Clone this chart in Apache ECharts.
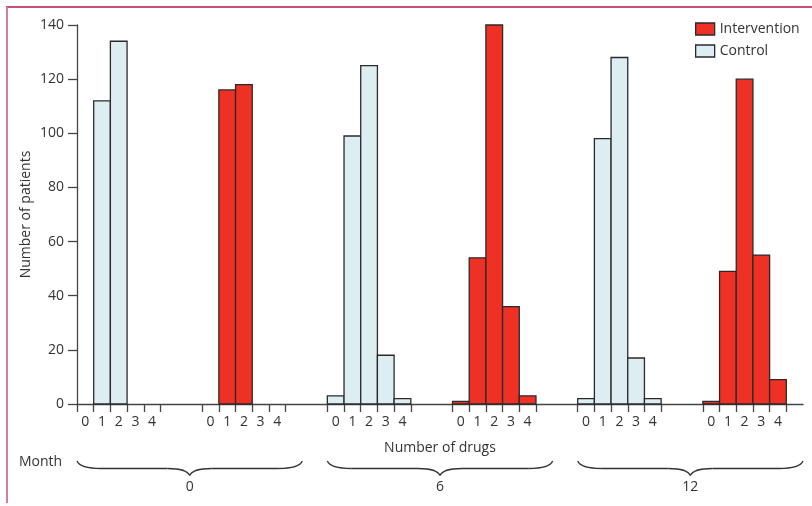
<!DOCTYPE html>
<html>
<head>
<meta charset="utf-8">
<script src="https://cdn.jsdelivr.net/npm/echarts@6/dist/echarts.min.js"></script>
<style>
html,body{margin:0;padding:0;background:#fff;}
#chart{width:812px;height:506px;}
</style>
</head>
<body>
<div id="chart"></div>
<script>
// ---- data ----
const months = ['0', '6', '12'];
const drugCounts = ['0', '1', '2', '3', '4'];
const controlValues = [
  [0, 112, 134, 0, 0],
  [3, 99, 125, 18, 2],
  [2, 98, 128, 17, 2]
];
const interventionValues = [
  [0, 116, 118, 0, 0],
  [1, 54, 140, 36, 3],
  [1, 49, 120, 55, 9]
];
const yTicks = [0, 20, 40, 60, 80, 100, 120, 140];

// ---- layout in axis units (one unit = one bar) ----
const MONTH_SPAN = 15;
const ARM_OFFSET = 7.5;
const X_MAX = 43.5;
const BRACE_SPAN = 13.5;

function buildData(values, arm) {
  const out = [];
  values.forEach((row, m) => {
    row.forEach((v, k) => {
      out.push([m * MONTH_SPAN + arm * ARM_OFFSET + k, v, k]);
    });
  });
  return out;
}
const tickVals = [], labelVals = [];
months.forEach((_, m) => {
  [0, 1].forEach(a => {
    const o = m * MONTH_SPAN + a * ARM_OFFSET;
    for (let i = 0; i <= drugCounts.length; i++) tickVals.push(o + i);
    for (let i = 0; i < drugCounts.length; i++) labelVals.push(o + i + 0.5);
  });
});

function renderBar(params, api) {
  const x = api.value(0), v = api.value(1);
  if (!v) return null;
  const p0 = api.coord([x, v]);
  const p1 = api.coord([x + 1, 0]);
  return {
    type: 'rect',
    shape: { x: p0[0], y: p0[1], width: p1[0] - p0[0], height: p1[1] - p0[1] },
    style: api.style()
  };
}

const FONT = '"Open Sans"';
const TXT = '#333';
const chart = echarts.init(document.getElementById('chart'), null, { renderer: 'canvas' });
const option = {
  animation: false,
  backgroundColor: '#fff',
  textStyle: { fontFamily: FONT },
  grid: { left: 77, right: 9, top: 25, bottom: 102 },
  legend: {
    orient: 'vertical',
    left: 695,
    top: 22,
    itemWidth: 19,
    itemHeight: 12,
    itemGap: 8,
    icon: 'rect',
    padding: 0,
    textStyle: { fontFamily: FONT, fontSize: 14, color: TXT },
    data: [
      { name: 'Intervention', itemStyle: { color: '#ee3124', borderColor: '#2a2a2a', borderWidth: 1.3 } },
      { name: 'Control', itemStyle: { color: '#ddeef3', borderColor: '#2a2a2a', borderWidth: 1.3 } }
    ]
  },
  xAxis: {
    type: 'value',
    min: 0,
    max: X_MAX,
    name: 'Number of drugs',
    nameLocation: 'middle',
    nameGap: 37,
    nameMoveOverlap: false,
    nameTextStyle: { fontFamily: FONT, fontSize: 14, color: TXT },
    splitLine: { show: false },
    axisLine: { show: true, lineStyle: { color: '#444', width: 1.3 } },
    axisTick: { show: true, customValues: tickVals, length: 8, lineStyle: { color: '#444', width: 1.3 } },
    axisLabel: {
      customValues: labelVals,
      fontFamily: FONT, fontSize: 14, color: TXT, margin: 11,
      formatter: v => drugCounts[Math.round((v % ARM_OFFSET) - 0.5)]
    }
  },
  yAxis: {
    type: 'value',
    min: 0,
    max: 140,
    interval: 20,
    name: 'Number of patients',
    nameLocation: 'middle',
    nameGap: 44,
    nameMoveOverlap: false,
    nameTextStyle: { fontFamily: FONT, fontSize: 14, color: TXT },
    splitLine: { show: false },
    axisLine: { show: true, lineStyle: { color: '#444', width: 1.3 } },
    axisTick: { show: true, length: 9, lineStyle: { color: '#444', width: 1.3 } },
    axisLabel: { fontFamily: FONT, fontSize: 14, color: TXT, margin: 13 }
  },
  series: [
    {
      name: 'Control',
      type: 'custom',
      renderItem: renderBar,
      encode: { x: 0, y: 1 },
      itemStyle: { color: '#ddeef3', borderColor: '#2a2a2a', borderWidth: 1.3 },
      data: buildData(controlValues, 0)
    },
    {
      name: 'Intervention',
      type: 'custom',
      renderItem: renderBar,
      encode: { x: 0, y: 1 },
      itemStyle: { color: '#ee3124', borderColor: '#2a2a2a', borderWidth: 1.3 },
      data: buildData(interventionValues, 1)
    }
  ]
};
chart.setOption(option);

// ---- annotations: frame, braces, month labels ----
const graphics = [
  { type: 'line', shape: { x1: 6, y1: 7, x2: 812, y2: 7 }, style: { stroke: '#b2163f', lineWidth: 1.6 } },
  { type: 'line', shape: { x1: 7, y1: 7, x2: 7, y2: 503 }, style: { stroke: '#d97b9b', lineWidth: 2 } },
  { type: 'text', x: 19, y: 462, style: { text: 'Month', font: '14px ' + FONT, fill: TXT, verticalAlign: 'middle' } }
];
const y0 = 461, yM = 468.5, yT = 475.5;
const braceStyle = { stroke: '#333', lineWidth: 1.4, fill: null };
function quad(x1, y1, cx, cy, x2, y2) {
  return { type: 'bezierCurve', shape: { x1, y1, cpx1: cx, cpy1: cy, x2, y2 }, style: braceStyle };
}
function seg(x1, y1, x2, y2) {
  return { type: 'line', shape: { x1, y1, x2, y2 }, style: braceStyle };
}
months.forEach((mLabel, m) => {
  const x0 = chart.convertToPixel({ xAxisIndex: 0 }, m * MONTH_SPAN);
  const x1 = chart.convertToPixel({ xAxisIndex: 0 }, m * MONTH_SPAN + BRACE_SPAN);
  const xc = (x0 + x1) / 2;
  graphics.push(quad(x0, y0, x0 + 3, yM, x0 + 24, yM));
  graphics.push(seg(x0 + 24, yM, xc - 22, yM));
  graphics.push(quad(xc - 22, yM, xc - 3, yM, xc, yT));
  graphics.push(quad(xc, yT, xc + 3, yM, xc + 22, yM));
  graphics.push(seg(xc + 22, yM, x1 - 24, yM));
  graphics.push(quad(x1 - 24, yM, x1 - 3, yM, x1, y0));
  graphics.push({ type: 'text', x: xc, y: 487, style: { text: mLabel, font: '14px ' + FONT, fill: TXT, align: 'center', verticalAlign: 'middle' } });
});
chart.setOption({ graphic: graphics });
</script>
</body>
</html>
